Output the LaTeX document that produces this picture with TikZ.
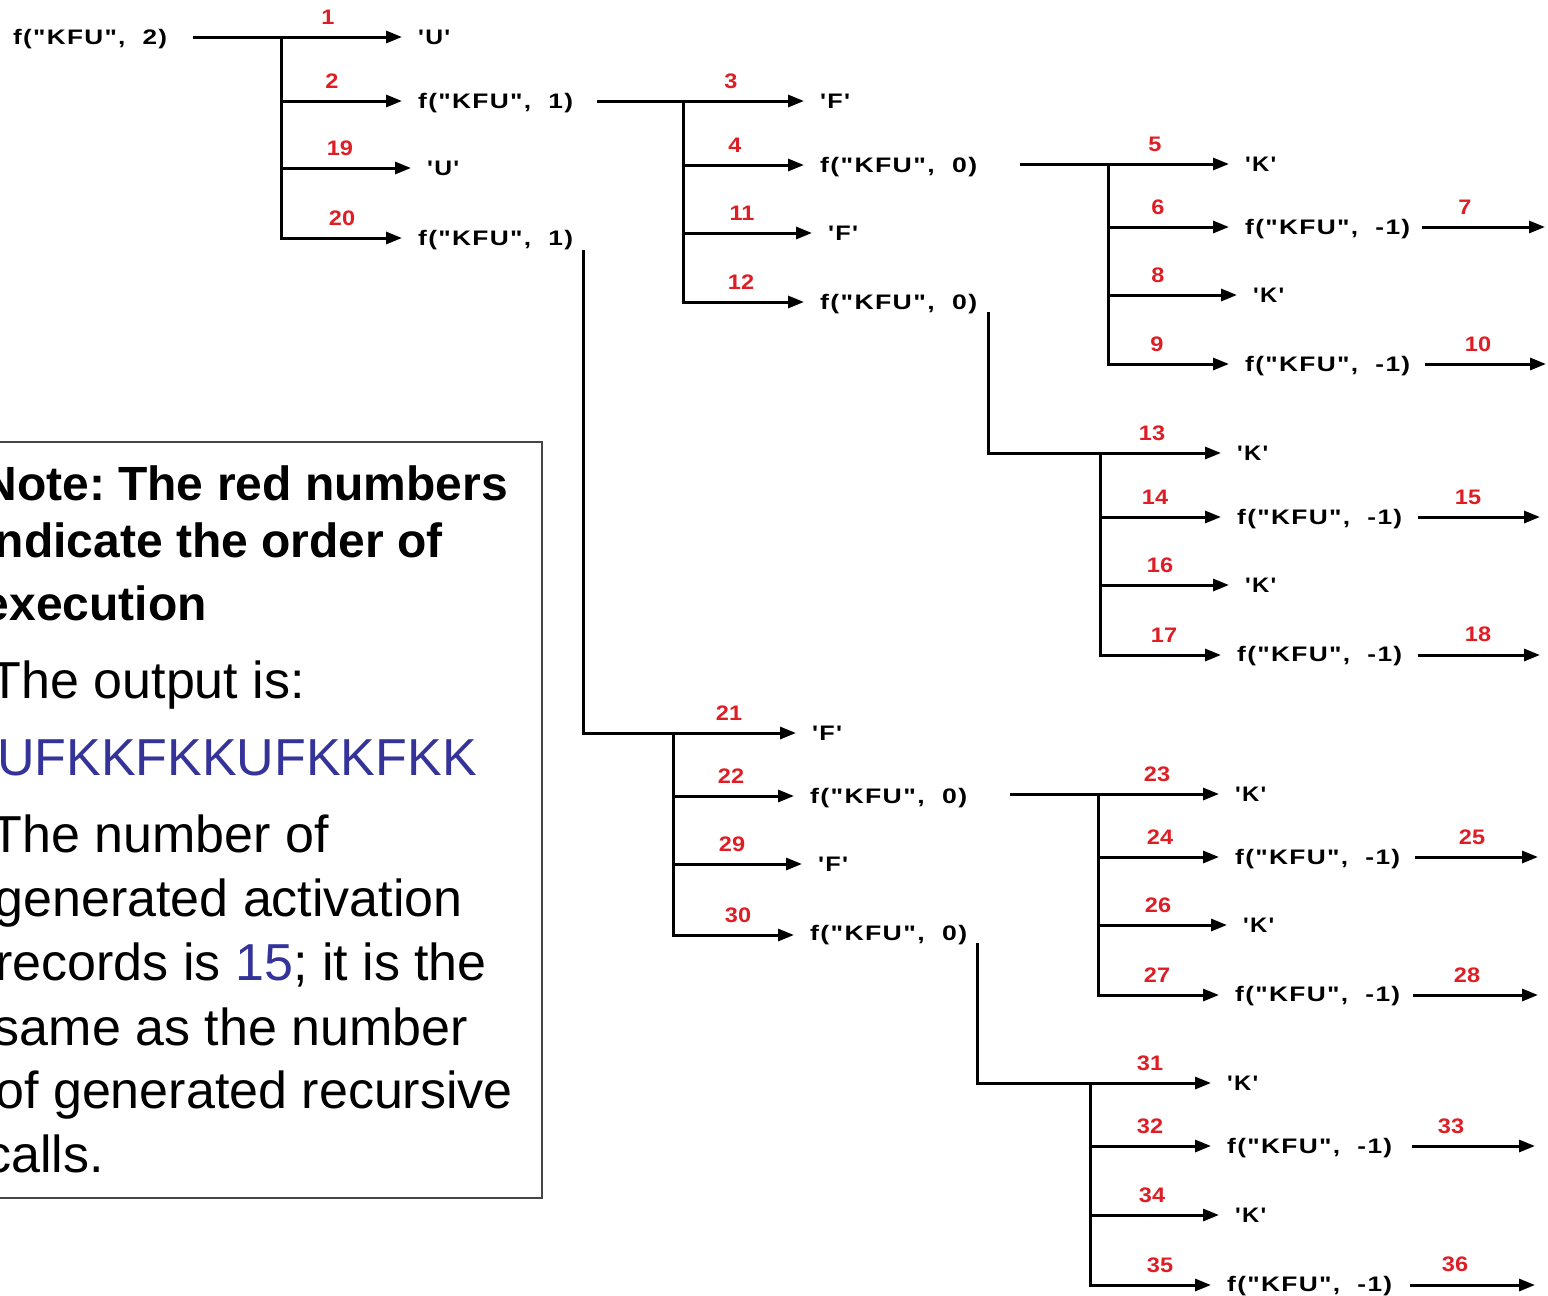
\documentclass[tikz,border=0pt]{standalone}
\usepackage{fontspec}
\setmainfont{Liberation Sans}
\newfontfamily\treefont[Ligatures=TeXOff,LetterSpace=5]{Liberation Sans}
\usepackage{graphicx}
\usetikzlibrary{arrows.meta,calc}
\definecolor{numred}{RGB}{222,30,36}
\definecolor{outblue}{RGB}{51,51,153}
\definecolor{boxgray}{RGB}{70,70,70}

% call labels and character labels, set to a fixed width
\newcommand{\fk}[2]{\resizebox{#1pt}{\height}{f("KFU",\ \ #2)}}
\newcommand{\ch}[2]{\resizebox{#1pt}{\height}{'#2'}}
\newcommand{\rn}[1]{\scalebox{1.12}[1]{#1}}

\frenchspacing
\begin{document}
\begin{tikzpicture}[x=1pt,y=-1pt,
  arr/.style={line width=3pt,-{Triangle[length=16pt,width=12pt]},shorten >=16pt},
  outarr/.style={line width=3pt,-{Triangle[length=16pt,width=12pt]}},
  lab/.style={anchor=base west,inner sep=0pt,font=\treefont\fontsize{21}{23}\selectfont\bfseries},
  num/.style={anchor=base,inner sep=0pt,text=numred,font=\fontsize{21}{23}\selectfont\bfseries},
  nb/.style={anchor=base east,inner sep=0pt,font=\fontsize{48}{58}\selectfont\bfseries},
  nr/.style={anchor=base east,inner sep=0pt,font=\fontsize{52}{62}\selectfont}]

\useasboundingbox (0,0) rectangle (1548,1296);
\clip (0,0) rectangle (1548,1296);

% ---------- level 0: f("KFU", 2)
\node[lab] (root) at (13,44) {\fk{154}{2}};
\coordinate (a1) at (281,37);
\coordinate (a2) at (281,101);
\coordinate (a3) at (281,168);
\coordinate (a4) at (281,238);
\node[lab] (u1)  at (418,44)  {\ch{32}{U}};
\node[lab] (f1a) at (418,108) {\fk{155}{1}};
\node[lab] (u2)  at (427,175) {\ch{32}{U}};
\node[lab] (f1b) at (418,245) {\fk{155}{1}};
\draw[arr,shorten <=26pt] (root.east |- a1) -- (u1.west |- a1);
\draw[arr] (a2) -- (f1a.west |- a2);
\draw[arr] (a3) -- (u2.west |- a3);
\draw[arr] (a1) -- (a4) -- (f1b.west |- a4);
\node[num] (n1)  at (328,24)  {\rn{1}};
\node[num] (n2)  at (332,88)  {\rn{2}};
\node[num] (n19) at (340,155) {\rn{19}};
\node[num] (n20) at (342,225) {\rn{20}};

% ---------- level 1: first f("KFU", 1)
\coordinate (b1) at (683,101);
\coordinate (b2) at (683,165);
\coordinate (b3) at (683,233);
\coordinate (b4) at (683,302);
\node[lab] (F1)  at (820,108) {\ch{30}{F}};
\node[lab] (f0a) at (820,172) {\fk{157}{0}};
\node[lab] (F2)  at (828,240) {\ch{30}{F}};
\node[lab] (f0b) at (820,309) {\fk{157}{0}};
\draw[arr,shorten <=24pt] (f1a.east |- b1) -- (F1.west |- b1);
\draw[arr] (b2) -- (f0a.west |- b2);
\draw[arr] (b3) -- (F2.west |- b3);
\draw[arr] (b1) -- (b4) -- (f0b.west |- b4);
\node[num] (n3)  at (731,88)  {\rn{3}};
\node[num] (n4)  at (735,152) {\rn{4}};
\node[num] (n11) at (742,220) {\rn{11}};
\node[num] (n12) at (741,289) {\rn{12}};

% ---------- level 2: first f("KFU", 0)
\coordinate (c1) at (1108,164);
\coordinate (c2) at (1108,227);
\coordinate (c3) at (1108,295);
\coordinate (c4) at (1108,364);
\node[lab] (K1)  at (1245,171) {\ch{31}{K}};
\node[lab] (fm1) at (1245,234) {\fk{165}{-1}};
\node[lab] (K2)  at (1253,302) {\ch{31}{K}};
\node[lab] (fm2) at (1245,371) {\fk{165}{-1}};
\draw[arr,shorten <=43pt] (f0a.east |- c1) -- (K1.west |- c1);
\draw[arr] (c2) -- (fm1.west |- c2);
\draw[arr] (c3) -- (K2.west |- c3);
\draw[arr] (c1) -- (c4) -- (fm2.west |- c4);
\coordinate (e7)  at (1545,227);
\coordinate (e10) at (1546,364);
\draw[outarr,shorten <=12pt] (fm1.east |- c2) -- (e7);
\draw[outarr,shorten <=15pt] (fm2.east |- c4) -- (e10);
\node[num] (n5)  at (1155,151) {\rn{5}};
\node[num] (n6)  at (1158,214) {\rn{6}};
\node[num] (n8)  at (1158,282) {\rn{8}};
\node[num] (n9)  at (1157,351) {\rn{9}};
\node[num] (n7)  at (1465,214) {\rn{7}};
\node[num] (n10) at (1478,351) {\rn{10}};

% ---------- level 2: second f("KFU", 0)
\coordinate (g1) at (988,312);
\coordinate (d1) at (1100,453);
\coordinate (d2) at (1100,517);
\coordinate (d3) at (1100,585);
\coordinate (d4) at (1100,655);
\node[lab] (K3)  at (1237,460) {\ch{31}{K}};
\node[lab] (fm3) at (1237,524) {\fk{165}{-1}};
\node[lab] (K4)  at (1245,592) {\ch{31}{K}};
\node[lab] (fm4) at (1237,661) {\fk{165}{-1}};
\draw[arr] (g1) -- (g1 |- d1) -- (K3.west |- d1);
\draw[arr] (d2) -- (fm3.west |- d2);
\draw[arr] (d3) -- (K4.west |- d3);
\draw[arr] (d1) -- (d4) -- (fm4.west |- d4);
\coordinate (e15) at (1540,517);
\coordinate (e18) at (1540,655);
\draw[outarr,shorten <=16pt] (fm3.east |- d2) -- (e15);
\draw[outarr,shorten <=16pt] (fm4.east |- d4) -- (e18);
\node[num] (n13) at (1152,440) {\rn{13}};
\node[num] (n14) at (1155,504) {\rn{14}};
\node[num] (n16) at (1160,572) {\rn{16}};
\node[num] (n17) at (1164,642) {\rn{17}};
\node[num] (n15) at (1468,504) {\rn{15}};
\node[num] (n18) at (1478,641) {\rn{18}};

% ---------- level 1: second f("KFU", 1)
\coordinate (h1) at (583,250);
\coordinate (p1) at (673,733);
\coordinate (p2) at (673,796);
\coordinate (p3) at (673,864);
\coordinate (p4) at (673,935);
\node[lab] (F3)  at (812,740) {\ch{30}{F}};
\node[lab] (f0c) at (810,803) {\fk{157}{0}};
\node[lab] (F4)  at (818,871) {\ch{30}{F}};
\node[lab] (f0d) at (810,940) {\fk{157}{0}};
\draw[arr] (h1) -- (h1 |- p1) -- (F3.west |- p1);
\draw[arr] (p2) -- (f0c.west |- p2);
\draw[arr] (p3) -- (F4.west |- p3);
\draw[arr] (p1) -- (p4) -- (f0d.west |- p4);
\node[num] (n21) at (729,720) {\rn{21}};
\node[num] (n22) at (731,783) {\rn{22}};
\node[num] (n29) at (732,851) {\rn{29}};
\node[num] (n30) at (738,922) {\rn{30}};

% ---------- level 2: third f("KFU", 0)
\coordinate (q1) at (1098,794);
\coordinate (q2) at (1098,857);
\coordinate (q3) at (1098,925);
\coordinate (q4) at (1098,995);
\node[lab] (K5)  at (1235,801)  {\ch{31}{K}};
\node[lab] (fm5) at (1235,864)  {\fk{165}{-1}};
\node[lab] (K6)  at (1243,932)  {\ch{31}{K}};
\node[lab] (fm6) at (1235,1001) {\fk{165}{-1}};
\draw[arr,shorten <=43pt] (f0c.east |- q1) -- (K5.west |- q1);
\draw[arr] (q2) -- (fm5.west |- q2);
\draw[arr] (q3) -- (K6.west |- q3);
\draw[arr] (q1) -- (q4) -- (fm6.west |- q4);
\coordinate (e25) at (1538,857);
\coordinate (e28) at (1538,995);
\draw[outarr,shorten <=15pt] (fm5.east |- q2) -- (e25);
\draw[outarr,shorten <=13pt] (fm6.east |- q4) -- (e28);
\node[num] (n23) at (1157,781) {\rn{23}};
\node[num] (n24) at (1160,844) {\rn{24}};
\node[num] (n26) at (1158,912) {\rn{26}};
\node[num] (n27) at (1157,982) {\rn{27}};
\node[num] (n25) at (1472,844) {\rn{25}};
\node[num] (n28) at (1467,982) {\rn{28}};

% ---------- level 2: fourth f("KFU", 0)
\coordinate (k1) at (977,943);
\coordinate (r1) at (1090,1083);
\coordinate (r2) at (1090,1146);
\coordinate (r3) at (1090,1215);
\coordinate (r4) at (1090,1285);
\node[lab] (K7)  at (1227,1090) {\ch{31}{K}};
\node[lab] (fm7) at (1227,1153) {\fk{165}{-1}};
\node[lab] (K8)  at (1235,1222) {\ch{31}{K}};
\node[lab] (fm8) at (1227,1291) {\fk{165}{-1}};
\draw[arr] (k1) -- (k1 |- r1) -- (K7.west |- r1);
\draw[arr] (r2) -- (fm7.west |- r2);
\draw[arr] (r3) -- (K8.west |- r3);
\draw[arr] (r1) -- (r4) -- (fm8.west |- r4);
\coordinate (e33) at (1535,1146);
\coordinate (e36) at (1535,1285);
\draw[outarr,shorten <=20pt] (fm7.east |- r2) -- (e33);
\draw[outarr,shorten <=18pt] (fm8.east |- r4) -- (e36);
\node[num] (n31) at (1150,1070) {\rn{31}};
\node[num] (n32) at (1150,1133) {\rn{32}};
\node[num] (n34) at (1152,1202) {\rn{34}};
\node[num] (n35) at (1160,1272) {\rn{35}};
\node[num] (n33) at (1451,1133) {\rn{33}};
\node[num] (n36) at (1455,1271) {\rn{36}};

% ---------- note box
\draw[boxgray,line width=2pt] (-20,442) rectangle (542,1198);
\node[nb] (l1) at (508,500) {Note: The red numbers};
\node[nb] (l2) at (443,557) {indicate the order of};
\node[nb] (l3) at (207,620) {execution};
\node[nr] (l4) at (305,698) {The output is:};
\node[nr,text=outblue] (l5) at (477,775) {UFKKFKKUFKKFKK};
\node[nr] (l6) at (329,852) {The number of};
\node[nr] (l7) at (463,916) {generated activation};
\node[nr] (l8) at (487,980) {records is \textcolor{outblue}{15}; it is the};
\node[nr] (l9) at (468,1045) {same as the number};
\node[nr] (l10) at (513,1108) {of generated recursive};
\node[nr] (l11) at (104,1172) {calls.};
\end{tikzpicture}
\end{document}
